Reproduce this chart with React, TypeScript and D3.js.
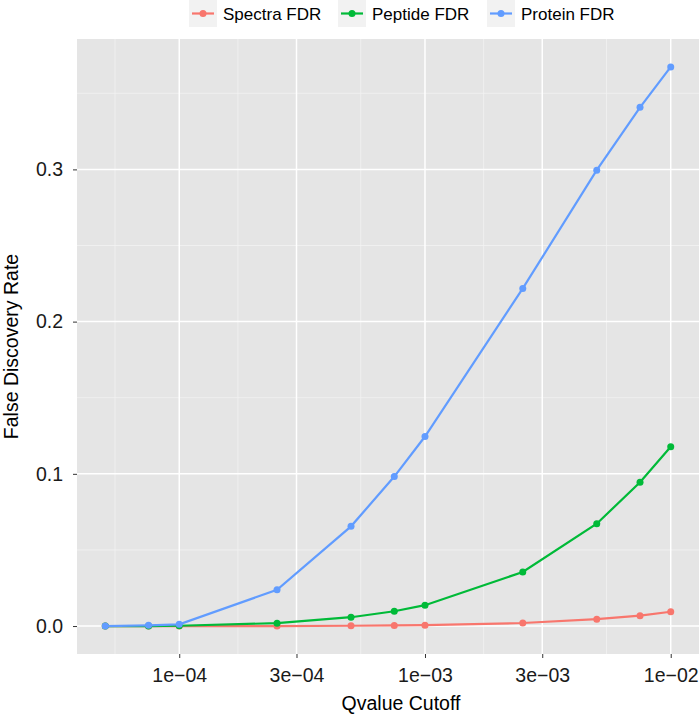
import { useEffect, useRef } from 'react';
import * as d3 from 'd3';

const qvalues = [5e-5, 7.5e-5, 1e-4, 2.5e-4, 5e-4, 7.5e-4, 1e-3, 2.5e-3, 5e-3, 7.5e-3, 1e-2];
const spectraFdr = [0, 0, 0, 0, 0.0002, 0.0004, 0.0006, 0.002, 0.0045, 0.0068, 0.0094];
const peptideFdr = [0, 0, 0.0002, 0.0019, 0.0058, 0.0097, 0.0137, 0.0355, 0.0672, 0.0945, 0.1178];
const proteinFdr = [0, 0.0005, 0.0011, 0.0238, 0.0655, 0.0982, 0.1245, 0.2218, 0.2995, 0.3408, 0.3673];

const seriesNames = ['Spectra FDR', 'Peptide FDR', 'Protein FDR'];
const seriesColors = ['#F8766D', '#00BA38', '#619CFF'];
const xTicks = [1e-4, 3e-4, 1e-3, 3e-3, 1e-2];
const xTickLabels = ['1e\u221204', '3e\u221204', '1e\u221203', '3e\u221203', '1e\u221202'];
const yTicks = [0, 0.1, 0.2, 0.3];

const W = 700, H = 719;
const margin = { top: 39, right: 1, bottom: 65, left: 77 };
const font = 'Liberation Sans, Arial, Helvetica, sans-serif';

export default function App() {
  const ref = useRef<SVGSVGElement>(null);

  useEffect(() => {
    const svg = d3.select(ref.current);
    svg.selectAll('*').remove();
    const width = W - margin.left - margin.right;
    const height = H - margin.top - margin.bottom;

    const allSeries = [spectraFdr, peptideFdr, proteinFdr];

    // log x with ggplot's 5% expansion
    const lx0 = Math.log10(d3.min(qvalues)!), lx1 = Math.log10(d3.max(qvalues)!);
    const ex = (lx1 - lx0) * 0.05;
    const x = d3.scaleLog().domain([10 ** (lx0 - ex), 10 ** (lx1 + ex)]).range([0, width]);
    const ymax = d3.max(allSeries.flat())!;
    const y = d3.scaleLinear().domain([-ymax * 0.05, ymax * 1.05]).range([height, 0]);

    const g = svg.append('g').attr('transform', `translate(${margin.left},${margin.top})`);
    g.append('rect').attr('width', width).attr('height', height).attr('fill', '#E5E5E5');

    // minor grid: midpoints between major breaks (in log space)
    const logBreaks = [Math.log10(3e-5), ...xTicks.map(Math.log10)];
    const xMinor = d3.pairs(logBreaks).map(([a, b]) => 10 ** ((a + b) / 2));
    const yMinor = [0.05, 0.15, 0.25, 0.35];
    g.selectAll('.xminor').data(xMinor).enter().append('line')
      .attr('x1', d => x(d)).attr('x2', d => x(d)).attr('y1', 0).attr('y2', height)
      .attr('stroke', '#F2F2F2').attr('stroke-width', 0.8);
    g.selectAll('.yminor').data(yMinor).enter().append('line')
      .attr('y1', d => y(d)).attr('y2', d => y(d)).attr('x1', 0).attr('x2', width)
      .attr('stroke', '#F2F2F2').attr('stroke-width', 0.8);
    g.selectAll('.xmajor').data(xTicks).enter().append('line')
      .attr('x1', d => x(d)).attr('x2', d => x(d)).attr('y1', 0).attr('y2', height)
      .attr('stroke', '#FFFFFF').attr('stroke-width', 1.5);
    g.selectAll('.ymajor').data(yTicks).enter().append('line')
      .attr('y1', d => y(d)).attr('y2', d => y(d)).attr('x1', 0).attr('x2', width)
      .attr('stroke', '#FFFFFF').attr('stroke-width', 1.5);

    // axes
    const xAxis = g.append('g').attr('transform', `translate(0,${height})`)
      .call(d3.axisBottom(x).tickValues(xTicks).tickFormat((d, i) => xTickLabels[i]).tickSize(4).tickSizeOuter(0));
    const yAxis = g.append('g')
      .call(d3.axisLeft(y).tickValues(yTicks).tickFormat(d3.format('.1f')).tickSize(4).tickSizeOuter(0));
    [xAxis, yAxis].forEach(a => {
      a.select('.domain').remove();
      a.selectAll('line').attr('stroke', '#333333');
      a.selectAll('text').attr('fill', '#1a1a1a').style('font-family', font).style('font-size', '19.5px');
    });
    xAxis.selectAll('text').attr('y', 28).attr('dy', 0);
    yAxis.selectAll('text').attr('x', -14);

    // series
    const line = d3.line<number>().x((d, i) => x(qvalues[i])).y(d => y(d));
    allSeries.forEach((vals, si) => {
      g.append('path').datum(vals).attr('d', line).attr('fill', 'none')
        .attr('stroke', seriesColors[si]).attr('stroke-width', 2.2);
      g.selectAll(`.pt${si}`).data(vals).enter().append('circle')
        .attr('cx', (d, i) => x(qvalues[i])).attr('cy', d => y(d)).attr('r', 3.5)
        .attr('fill', seriesColors[si]);
    });

    // axis titles
    svg.append('text').attr('x', 401).attr('y', 710)
      .attr('text-anchor', 'middle').style('font-family', font).style('font-size', '19.5px')
      .attr('fill', '#000').text('Qvalue Cutoff');
    svg.append('text').attr('transform', `translate(18,${margin.top + height / 2}) rotate(-90)`)
      .attr('text-anchor', 'middle').style('font-family', font).style('font-size', '19.5px')
      .attr('fill', '#000').text('False Discovery Rate');

    // legend
    const legendX = [189, 338, 487];
    const lg = svg.append('g');
    seriesNames.forEach((name, i) => {
      const it = lg.append('g').attr('transform', `translate(${legendX[i]},0)`);
      it.append('rect').attr('width', 28).attr('height', 27).attr('fill', '#F2F2F2');
      it.append('line').attr('x1', 3).attr('x2', 25).attr('y1', 13.5).attr('y2', 13.5)
        .attr('stroke', seriesColors[i]).attr('stroke-width', 2.2);
      it.append('circle').attr('cx', 14).attr('cy', 13.5).attr('r', 3.5).attr('fill', seriesColors[i]);
      it.append('text').attr('x', 34).attr('y', 19.5)
        .style('font-family', font).style('font-size', '17px').attr('fill', '#000').text(name);
    });
  }, []);

  return (
    <div style={{ position: 'absolute', left: 0, top: 0 }}>
      <svg ref={ref} width={W} height={H} style={{ display: 'block', background: '#fff' }} />
    </div>
  );
}
